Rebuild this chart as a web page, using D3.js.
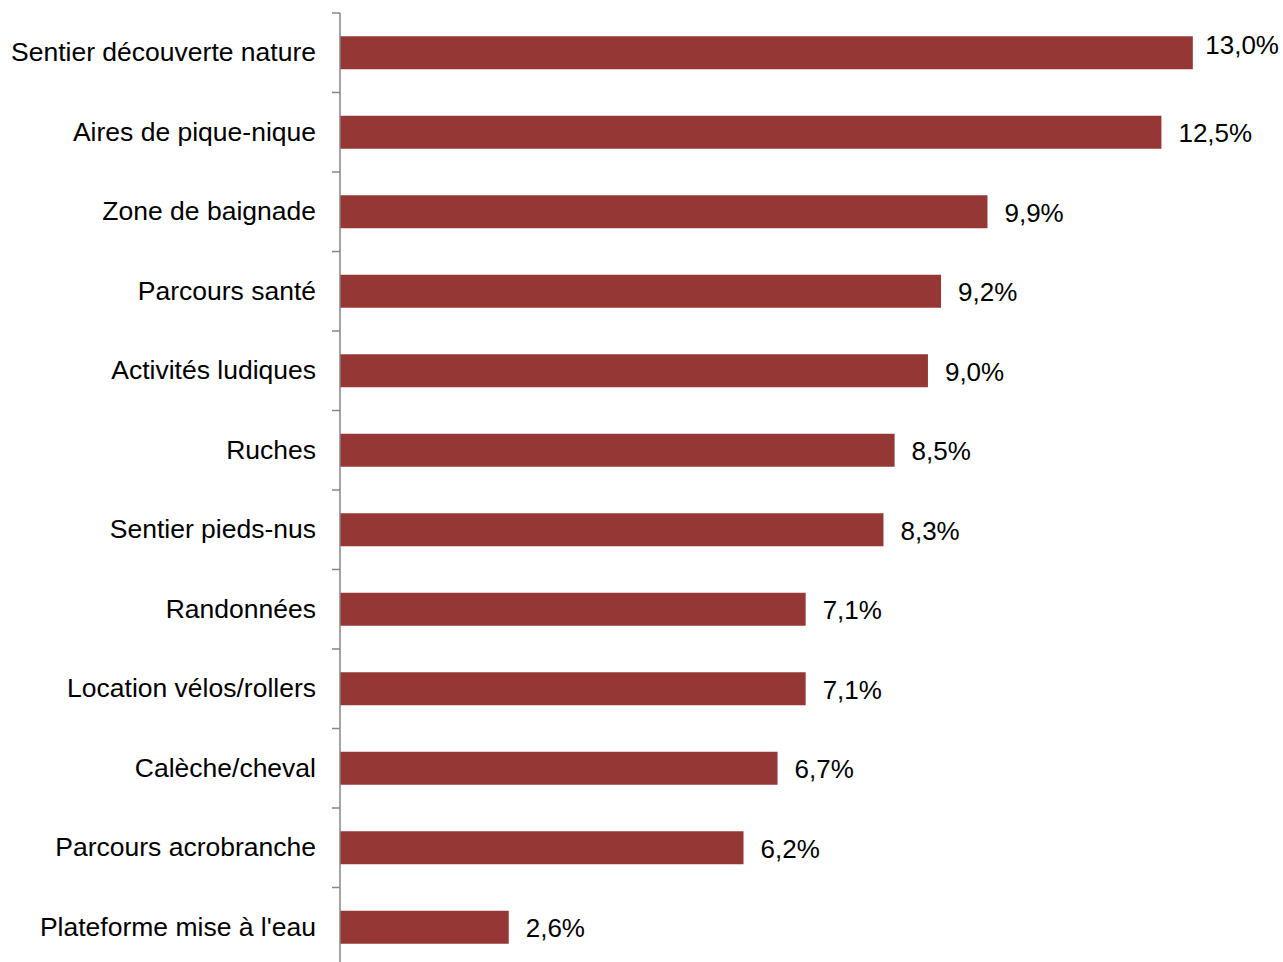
<!DOCTYPE html>
<html>
<head>
<meta charset="utf-8">
<script src="https://cdn.jsdelivr.net/npm/d3@7"></script>
<style>
  html, body { margin: 0; padding: 0; background: #fff; }
  svg { display: block; }
  text { font-family: "Liberation Sans", Arial, sans-serif; fill: #000; }
</style>
</head>
<body>
<svg id="chart" width="1283" height="962"></svg>
<script>
const categories = [
  "Sentier découverte nature",
  "Aires de pique-nique",
  "Zone de baignade",
  "Parcours santé",
  "Activités ludiques",
  "Ruches",
  "Sentier pieds-nus",
  "Randonnées",
  "Location vélos/rollers",
  "Calèche/cheval",
  "Parcours acrobranche",
  "Plateforme mise à l'eau"
];
const values = [13.04, 12.56, 9.90, 9.19, 8.99, 8.48, 8.31, 7.12, 7.12, 6.69, 6.17, 2.58];
const valueLabels = ["13,0%", "12,5%", "9,9%", "9,2%", "9,0%", "8,5%", "8,3%", "7,1%", "7,1%", "6,7%", "6,2%", "2,6%"];

const W = 1283, H = 962;
const axisX = 340;
const svg = d3.select("#chart");

const y = d3.scaleBand()
  .domain(categories)
  .range([13, 967])
  .paddingInner(0.585)
  .paddingOuter(0.2925);

const x = d3.scaleLinear().domain([0, 14]).range([axisX, axisX + 915.6]);

// bars
svg.append("g").selectAll("rect")
  .data(categories)
  .join("rect")
  .attr("x", x(0))
  .attr("y", d => y(d))
  .attr("width", (d, i) => x(values[i]) - x(0))
  .attr("height", y.bandwidth())
  .attr("fill", "#953735");

// axis line + ticks at band boundaries
const step = y.step();
const r0 = y.range()[0];
const g = svg.append("g").attr("stroke", "#868686").attr("stroke-width", 1.5);
g.append("line").attr("x1", axisX).attr("x2", axisX).attr("y1", r0).attr("y2", y.range()[1]);
g.selectAll("line.tick")
  .data(d3.range(categories.length + 1))
  .join("line")
  .attr("class", "tick")
  .attr("x1", axisX - 8).attr("x2", axisX)
  .attr("y1", i => r0 + i * step).attr("y2", i => r0 + i * step);

// category labels
svg.append("g").selectAll("text")
  .data(categories)
  .join("text")
  .attr("x", axisX - 24)
  .attr("y", d => y(d) + y.bandwidth() / 2)
  .attr("dy", "0.33em")
  .attr("text-anchor", "end")
  .style("font-size", "26.5px")
  .text(d => d);

// value labels
const vl = svg.append("g").selectAll("text")
  .data(categories)
  .join("text")
  .attr("y", d => y(d) + y.bandwidth() / 2)
  .attr("dy", "0.38em")
  .style("font-size", "26px")
  .text((d, i) => valueLabels[i]);

vl.each(function(d, i) {
  const t = d3.select(this);
  const tw = this.getComputedTextLength();
  let px = x(values[i]) + 17;
  if (px + tw > W - 4) {
    // label does not fit: pull it inside the right edge and lift it
    t.attr("x", W - 4).attr("text-anchor", "end").attr("dy", "0.03em");
  } else {
    t.attr("x", px);
  }
});
</script>
</body>
</html>
